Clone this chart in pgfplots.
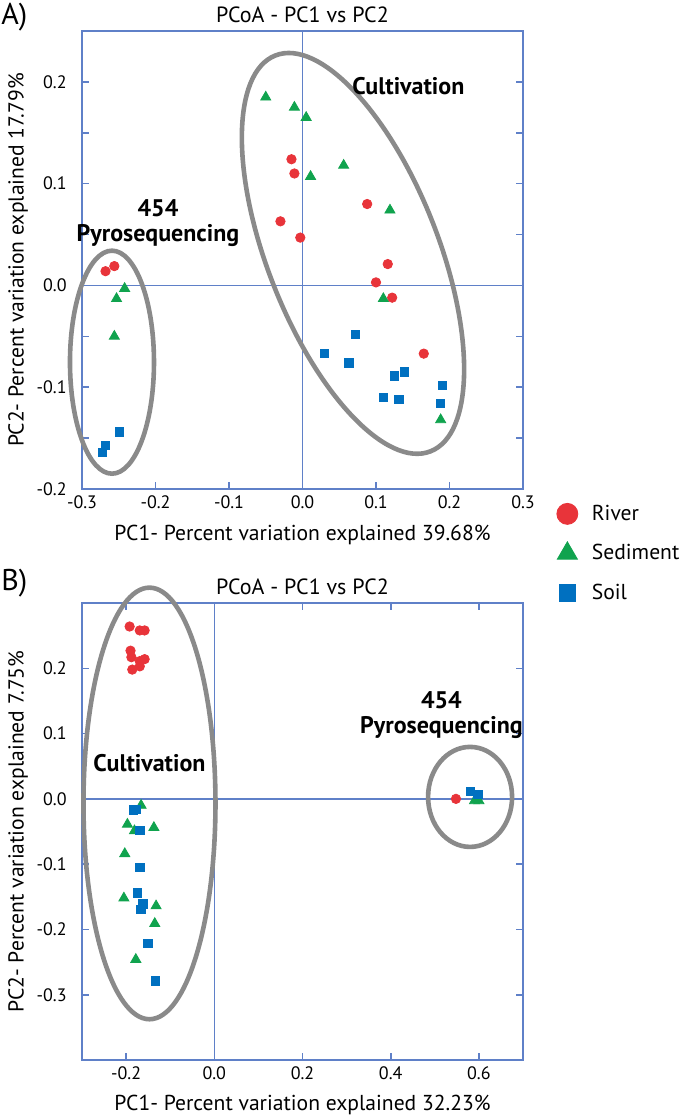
\documentclass[border=0pt]{standalone}
\usepackage{pgfplots}
\pgfplotsset{compat=1.18}
\usepackage{fontspec}
\setmainfont{PT Sans}
\definecolor{axblue}{RGB}{95,128,200}
\definecolor{riv}{RGB}{232,52,58}
\definecolor{sed}{RGB}{16,163,78}
\definecolor{soil}{RGB}{0,112,192}
\definecolor{ell}{RGB}{138,138,138}
\tikzset{
 ann/.style={font=\bfseries\fontsize{12}{14}\selectfont, anchor=base},
 ellp/.style={draw=ell, line width=2.3pt},
 zl/.style={axblue, line width=0.8pt},
}
\pgfplotsset{
 pcoa/.style={
  scale only axis, width=220.5pt, clip=false,
  axis line style={axblue, line width=0.8pt},
  every tick/.style={axblue, line width=0.8pt},
  major tick length=3.5pt, minor tick length=3.5pt,
  tick align=inside,
  tick label style={font=\fontsize{9}{10}\selectfont},
  /pgf/number format/.cd, fixed, fixed zerofill, precision=1, assume math mode=true, /pgfplots/.cd,
  xticklabel style={inner sep=0pt, anchor=north, yshift=-3pt},
  yticklabel style={inner sep=0pt, anchor=east, xshift=-7.5pt},
  label style={font=\fontsize{10.8}{12}\selectfont},
  xlabel style={at={(rel axis cs:0.5,-0.0993)}, anchor=center},
  ylabel style={at={(rel axis cs:-0.145,0.5)}, anchor=center},
  title style={font=\fontsize{11}{13}\selectfont, at={(rel axis cs:0.5,1)}, anchor=center, yshift=2pt},
 },
}
\begin{document}
\begin{tikzpicture}
\path[use as bounding box] (0,0) rectangle (340pt,558pt);
% ---------------- Panel A
\begin{axis}[pcoa, height=229pt, at={(41pt,313.5pt)}, anchor=south west,
  xmin=-0.3, xmax=0.3, ymin=-0.2, ymax=0.25,
  xtick={-0.3,-0.2,-0.1,0,0.1,0.2,0.3},
  ytick={-0.2,-0.1,0,0.1,0.2},
  minor ytick={-0.15,-0.05,0.05,0.15},
  xtick pos=lower, ytick pos=both, yticklabel pos=left,
  title={PCoA - PC1 vs PC2},
  xlabel={PC1- Percent variation explained 39.68\%},
  ylabel={PC2- Percent variation explained 17.79\%},
  legend style={draw=none, fill=none, at={(rel axis cs:1.0623,-0.016)}, anchor=north west,
    font=\fontsize{10.8}{12}\selectfont, row sep=6.6pt},
  legend cell align=left,
]
\draw[zl] (axis cs:0,-0.2) -- (axis cs:0,0.25);
\draw[zl] (axis cs:-0.3,0) -- (axis cs:0.3,0);
\addlegendimage{only marks, mark=*, riv, mark size=5.25pt}
\addlegendentry{\hspace*{5pt}River}
\addlegendimage{only marks, mark=triangle*, sed, mark size=5.8pt}
\addlegendentry{\hspace*{5pt}Sediment}
\addlegendimage{only marks, mark=square*, soil, mark size=4.2pt}
\addlegendentry{\hspace*{5pt}Soil}
\addplot[only marks, mark=*, riv, mark size=2.35pt, forget plot] coordinates {
(-0.268,0.014) (-0.256,0.019) (-0.015,0.124) (-0.011,0.110) (-0.030,0.063) (-0.003,0.047)
(0.088,0.080) (0.116,0.021) (0.100,0.003) (0.122,-0.012) (0.165,-0.067)};
\addplot[only marks, mark=triangle*, sed, mark size=2.9pt, forget plot] coordinates {
(-0.050,0.185) (-0.011,0.175) (0.005,0.165) (0.056,0.118) (0.011,0.107) (0.119,0.074)
(0.110,-0.013) (0.188,-0.132) (-0.242,-0.003) (-0.253,-0.013) (-0.256,-0.050)};
\addplot[only marks, mark=square*, soil, mark size=2.1pt, forget plot] coordinates {
(-0.249,-0.144) (-0.268,-0.157) (-0.272,-0.164) (0.072,-0.048) (0.030,-0.067) (0.063,-0.076)
(0.139,-0.085) (0.125,-0.089) (0.190,-0.098) (0.110,-0.110) (0.131,-0.112) (0.188,-0.116)};
\draw[ellp] (axis cs:-0.2592,-0.0754) ellipse [x radius=21pt, y radius=55.75pt];
\draw[ellp] (axis cs:0.0687,0.0315) ellipse [x radius=106.3pt, y radius=42.75pt, rotate=-68.6];
\node[ann] at (axis cs:0.144,0.188) {Cultivation};
\node[ann] at (axis cs:-0.1966,0.0673) {454};
\node[ann] at (axis cs:-0.1966,0.0427) {Pyrosequencing};
\node[anchor=west, inner sep=0pt, font=\fontsize{15}{18}\selectfont] at (rel axis cs:-0.1837,1.0306) {A)};
\end{axis}
% ---------------- Panel B
\begin{axis}[pcoa, height=228.5pt, at={(41pt,28pt)}, anchor=south west,
  xmin=-0.3, xmax=0.7, ymin=-0.4, ymax=0.3,
  xtick={-0.2,0,0.2,0.4,0.6},
  ytick={-0.3,-0.2,-0.1,0,0.1,0.2},
  xtick pos=both, ytick pos=both, xticklabel pos=left, yticklabel pos=left,
  title={PCoA - PC1 vs PC2},
  xlabel={PC1- Percent variation explained 32.23\%},
  ylabel={PC2- Percent variation explained 7.75\%},
]
\draw[zl] (axis cs:0,-0.4) -- (axis cs:0,0.3);
\draw[zl] (axis cs:-0.3,0) -- (axis cs:0.7,0);
\addplot[only marks, mark=*, riv, mark size=2.35pt] coordinates {
(-0.192,0.264) (-0.169,0.258) (-0.158,0.258) (-0.190,0.227) (-0.188,0.217) (-0.169,0.211)
(-0.158,0.214) (-0.186,0.198) (-0.169,0.203) (0.548,0.000)};
\addplot[only marks, mark=triangle*, sed, mark size=2.9pt] coordinates {
(-0.166,-0.010) (-0.197,-0.039) (-0.181,-0.049) (-0.137,-0.044) (-0.203,-0.084) (-0.205,-0.152)
(-0.132,-0.164) (-0.135,-0.191) (-0.178,-0.246) (0.590,-0.003) (0.600,-0.003)};
\addplot[only marks, mark=square*, soil, mark size=2.1pt] coordinates {
(-0.183,-0.017) (-0.178,-0.016) (-0.169,-0.048) (-0.169,-0.105) (-0.175,-0.144) (-0.162,-0.161)
(-0.166,-0.169) (-0.151,-0.221) (-0.134,-0.279) (0.581,0.011) (0.598,0.007)};
\draw[ellp] (axis cs:-0.147,-0.007) ellipse [x radius=33pt, y radius=107.9pt];
\draw[ellp] (axis cs:0.580,0.003) ellipse [x radius=21pt, y radius=25pt];
\node[ann] at (axis cs:-0.147,0.0413) {Cultivation};
\node[ann] at (axis cs:0.515,0.139) {454};
\node[ann] at (axis cs:0.515,0.1006) {Pyrosequencing};
\node[anchor=west, inner sep=0pt, font=\fontsize{15}{18}\selectfont] at (rel axis cs:-0.1837,1.0438) {B)};
\end{axis}
\end{tikzpicture}
\end{document}
